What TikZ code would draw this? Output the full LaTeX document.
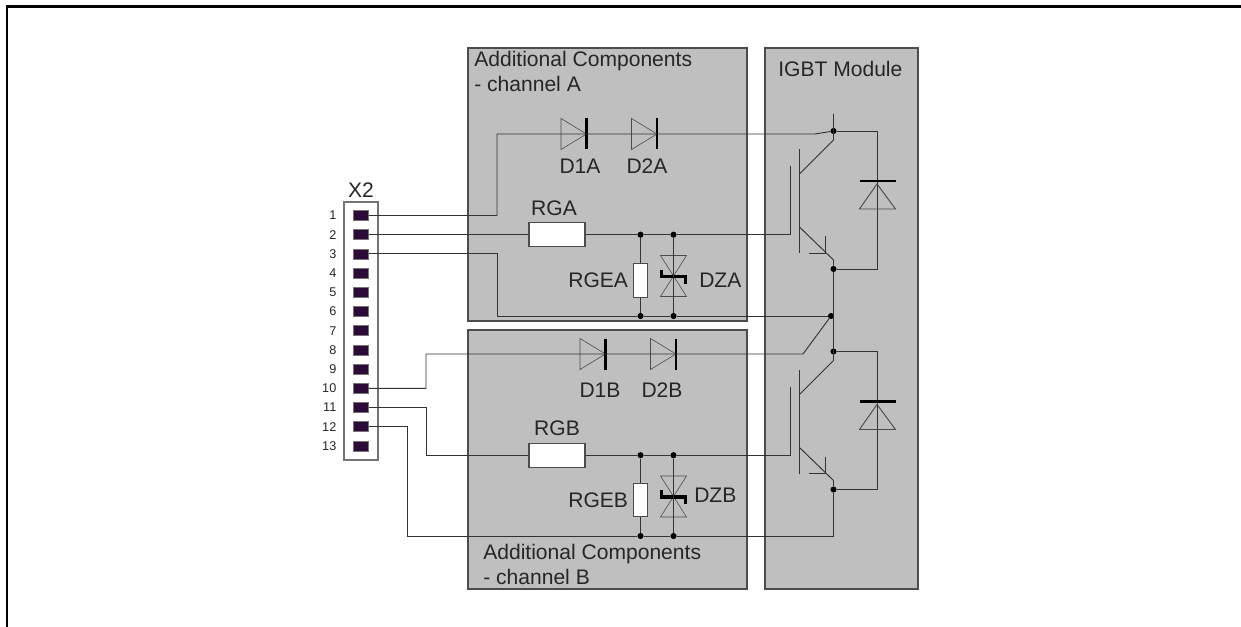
\documentclass[tikz,border=0pt]{standalone}
\usepackage{fontspec}
\setmainfont{Liberation Sans}
\usepackage{xcolor}
\colorlet{colorBox}{black!25}
\colorlet{colorEdge}{black!70}
\colorlet{colorWire}{black!80}
\definecolor{colorPin}{HTML}{2E0A38}
\usetikzlibrary{positioning}
\tikzset{
  panel/.style={draw=colorEdge, fill=colorBox, line width=.8pt},
  wire/.style={draw=colorWire, line width=.7pt},
  thin part/.style={draw=colorEdge, line width=.45pt},
  heavy/.style={draw=black, line width=2pt},
  resistor/.style={draw=colorEdge, fill=white, line width=.8pt, inner sep=0pt},
  pinbox/.style={draw=black!55, fill=colorPin, line width=.4pt, inner sep=0pt, minimum width=11.2pt, minimum height=7.5pt},
  dot/.style={circle, fill=black, inner sep=0pt, minimum size=4.6pt},
  lbl/.style={inner sep=0pt, text=black!85, font=\fontsize{15.8}{18.75}\selectfont},
  pinlbl/.style={inner sep=0pt, text=black!85, font=\fontsize{9.5}{11}\selectfont},
  diode/.pic={
    \draw[thin part] (-25.5,-15.5) -- (-25.5,15.5) -- (0,0) -- cycle;
    \draw[heavy, line width=1.7pt] (0,-15.5) -- (0,15.5);
  },
  zener/.pic={
    \draw[thin part] (-13,-20) -- (13,-20) -- (-13,21) -- (13,21) -- cycle;
    \draw[heavy, line width=2.8pt] (-12,-6) -- (-12,1) -- (12,1) -- (12,8);
  },
  igbt/.pic={
    \node[dot] (-c) at (0,0) {};
    \node[dot] (-e) at (0,138) {};
    \coordinate (-g) at (-43,103.7);
    \draw[wire] (0,-17) -- (0,9) -- (-34,43);
    \draw[wire] (-34,18) -- (-34,122);
    \draw[wire] (-43,35) -- (-g);
    \draw[wire] (-34,96) -- (0,129) -- (-e);
    \draw[wire] (-8,105) -- (-8,122) -- (-25,122);
    \draw[wire] (-e) -| (43.5,0) -- (-c);
    \draw[thin part, line width=.7pt] (43.5,53) -- (26,78) -- (62,78) -- cycle;
    \draw[heavy, line width=1.9pt] (26,50) -- (62,50);
  },
}
\begin{document}
\begin{tikzpicture}[x=.75pt, y=-.75pt]
\useasboundingbox (0,0) rectangle (1241,627);
% frame
\coordinate (tr) at (1241,6.5);
\coordinate (bl) at (7,627);
\draw[black, line width=1.6pt] (tr) -- (7,6.5) -- (bl);
% panels
\draw[panel] (468,48) rectangle (747,321);
\draw[panel] (468,330) rectangle (747,589);
\draw[panel] (765,48) rectangle (918,589);
\node[lbl, align=left, anchor=west] (addA) at (474,71.5) {Additional Components\\- channel A};
\node[lbl, align=left, anchor=west] (addB) at (483,564.5) {Additional Components\\- channel B};
\node[lbl, anchor=west] (mod) at (778,69) {IGBT Module};
% connector X2
\draw[draw=black!55, fill=white, line width=.8pt] (344,202) rectangle (378,460);
\node[lbl] (x2) at (361,190.5) {X2};
\foreach \i in {1,...,13} {
  \pgfmathsetmacro{\py}{215.5+19.2*(\i-1)}
  \node[pinbox] (p\i) at (361,\py) {};
  \node[pinlbl, anchor=east, left=12.5pt of p\i] (n\i) {\i};
}
% parts
\pic (igbtA) at (833.5,131) {igbt};
\pic (igbtB) at (833.5,351.5) {igbt};
\pic (d1a) at (586.5,134) {diode};
\pic (d2a) at (657,134) {diode};
\pic (d1b) at (605.5,354) {diode};
\pic (d2b) at (676,354) {diode};
\pic (dza) at (673.5,275.5) {zener};
\pic (dzb) at (673.5,496) {zener};
\node[lbl] (ld1a) at (580,166) {D1A};
\node[lbl] (ld2a) at (647,166) {D2A};
\node[lbl] (ld1b) at (600,390) {D1B};
\node[lbl] (ld2b) at (662,390) {D2B};
\node[dot] (ta1) at (640.5,234.7) {};
\node[dot] (ta2) at (673.5,234.7) {};
\node[dot] (ba1) at (640.5,316) {};
\node[dot] (ba2) at (673.5,316) {};
\node[dot] (tb1) at (640.5,455.2) {};
\node[dot] (tb2) at (673.5,455.2) {};
\node[dot] (bb1) at (640.5,536) {};
\node[dot] (bb2) at (673.5,536) {};
\node[dot] (mid) at (831,316) {};
\node[resistor, minimum width=42pt, minimum height=18pt] (rga) at (557,234.7) {};
\node[resistor, minimum width=42pt, minimum height=18pt] (rgb) at (557,455.2) {};
\node[resistor, minimum width=10.5pt, minimum height=25pt] (rgea) at (640.5,280.5) {};
\node[resistor, minimum width=10.5pt, minimum height=25pt] (rgeb) at (640.5,500) {};
\node[lbl, above=5pt of rga, xshift=-2.2pt] (lrga) {RGA};
\node[lbl, above=5pt of rgb] (lrgb) {RGB};
\node[lbl, left=3.5pt of rgea] (lrgea) {RGEA};
\node[lbl, left=3.5pt of rgeb] (lrgeb) {RGEB};
\node[lbl, anchor=west] (ldza) at (699,280.5) {DZA};
\node[lbl, anchor=west] (ldzb) at (694,495) {DZB};
% wiring
\coordinate (bend1) at (497,134);
\coordinate (bend3) at (497,316);
\coordinate (bend10) at (426,354);
\coordinate (bend11) at (426,455.2);
\coordinate (bend12) at (407,536);
\coordinate (kinkA) at (815,134);
\coordinate (kinkB) at (803,354);
\draw[wire] (p1.east) -| (bend1) -- (kinkA) -- (igbtA-c);
\draw[wire] (p2.east) -- (rga.west);
\draw[wire] (rga.east) -- (ta1) -- (ta2) -| (igbtA-g);
\draw[wire] (p3.east) -| (bend3) -- (ba1) -- (ba2) -- (mid);
\draw[wire] (p10.east) -| (bend10) -- (kinkB) -- (mid);
\draw[wire] (p11.east) -| (bend11) -- (rgb.west);
\draw[wire] (rgb.east) -- (tb1) -- (tb2) -| (igbtB-g);
\draw[wire] (p12.east) -| (bend12) -- (bb1) -- (bb2) -| (igbtB-e);
\draw[wire, line width=1pt] (igbtA-e) -- (igbtB-c);
\draw[wire] (ta1) -- (rgea) -- (ba1);
\draw[wire] (ta2) -- (ba2);
\draw[wire] (tb1) -- (rgeb) -- (bb1);
\draw[wire] (tb2) -- (bb2);
\end{tikzpicture}
\end{document}
